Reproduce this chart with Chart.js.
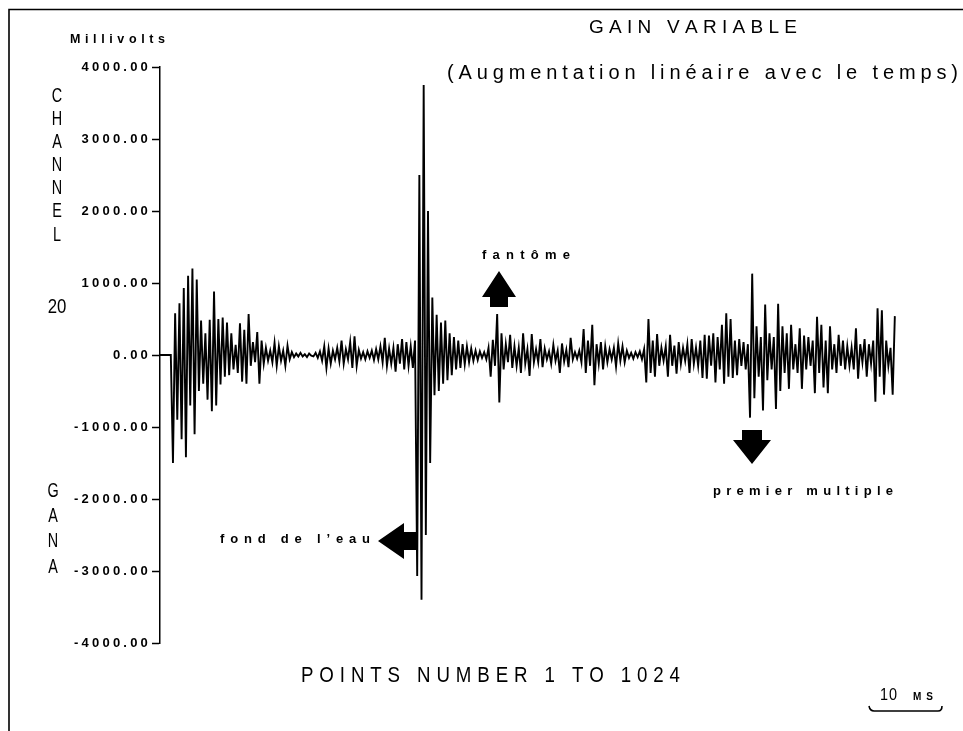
<!DOCTYPE html>
<html>
<head>
<meta charset="utf-8">
<script src="https://cdn.jsdelivr.net/npm/chart.js@4.4.1/dist/chart.umd.min.js"></script>
<style>
  html, body { margin: 0; padding: 0; background: #fff; }
  #wrap { position: relative; width: 963px; height: 731px; }
  canvas { display: block; }
</style>
</head>
<body>
<div id="wrap"><canvas id="c" width="963" height="731"></canvas></div>
<script>
// ---- data (millivolts), one value every 3 samples ----
const amplitudeMv = [
  0,0,0,0,0,0,
  -1500,580,-900,720,-1170,930,-1420,1100,-700,1200,-1100,1050,-500,480,-400,300,
  -620,490,-780,880,-700,500,-410,520,-300,450,-280,300,-200,140,-250,440,-370,350,-400,570,
  -150,180,-100,320,-400,200,-120,100,-80,60,-100,170,-150,120,-80,60,-150,130,-60,40,
  -30,20,-20,30,-20,10,-30,20,-10,
  -20,30,-40,50,-80,120,-180,90,-120,60,-60,100,-90,200,-120,80,-60,180,-180,260,-150,
  70,-50,40,-60,50,-40,60,-70,80,-60,120,-100,240,-150,90,-120,100,-230,150,-120,220,-200,180,-150,120,-180,200,
  -3070,2500,-3400,3750,-2500,2000,-1500,800,-560,560,-500,450,-400,480,-350,300,-280,250,-200,200,-180,150,-130,120,-100,90,-80,60,-70,50,-40,40,-60,100,
  -300,210,-150,570,-660,300,-200,150,-100,280,-180,120,-150,100,-250,300,-120,80,-290,290,-100,80,-100,220,-170,90,-60,50,-120,140,-80,60,-250,160,-90,70,-170,240,
  -60,40,-50,60,-100,360,-250,200,-150,420,-420,150,-120,180,-200,120,-100,80,-60,100,-160,160,-80,120,-100,60,-40,30,-50,40,-30,50,-60,80,
  -380,500,-250,200,-300,290,-150,100,-80,120,-300,280,-150,130,-260,180,-120,100,-80,150,-250,220,-120,100,-150,200,-320,280,-330,270,-150,300,-380,250,-200,420,-400,580,-300,500,-320,200,-280,220,-150,180,-200,150,
  -870,1130,-600,400,-300,250,-770,700,-350,300,-200,250,-750,710,-500,400,-250,300,-470,420,-200,150,-250,370,-470,270,-200,250,-150,200,-530,530,-250,420,-450,200,-530,400,-200,150,-250,280,-150,200,-200,120,-150,100,-200,370,-330,150,-100,220,-300,150,-120,200,-650,650,-300,620,-550,200,-150,100,-550,540
];
const sampleNumbers = amplitudeMv.map((_, i) => 1 + 3 * i);   // sample index of each value (1..1024)
const yTickValues = [-4000, -3000, -2000, -1000, 0, 1000, 2000, 3000, 4000];
const xRange = [1, 1024];

const titleText = 'GAIN VARIABLE';
const subtitleText = '(Augmentation linéaire avec le temps)';
const unitText = 'Millivolts';
const xAxisText = 'POINTS NUMBER 1 TO 1024';
const channelLetters = ['C', 'H', 'A', 'N', 'N', 'E', 'L'];
const channelNumber = '20';
const gainLetters = ['G', 'A', 'N', 'A'];
const notePhantom = 'fantôme';
const noteBottom = 'fond de l’eau';
const noteMultiple = 'premier multiple';
const scaleBarValue = '10';
const scaleBarUnit = 'MS';

// ---------------------------------------------------------------
function fitText(ctx, text, left, right, cy, font, sx) {
  ctx.save();
  ctx.font = font;
  ctx.textBaseline = 'middle';
  ctx.textAlign = 'left';
  const k = sx || 1;
  const chars = Array.from(text);
  const widths = chars.map(ch => ctx.measureText(ch).width * k);
  const natural = widths.reduce((a, b) => a + b, 0);
  const gap = chars.length > 1 ? (right - left - natural) / (chars.length - 1) : 0;
  let x = left;
  chars.forEach((ch, i) => {
    ctx.save();
    ctx.translate(x, cy);
    ctx.scale(k, 1);
    ctx.fillText(ch, 0, 0);
    ctx.restore();
    x += widths[i] + gap;
  });
  ctx.restore();
}
function narrowChar(ctx, ch, cx, cy, font, sx) {
  ctx.save();
  ctx.font = font;
  ctx.textBaseline = 'middle';
  ctx.textAlign = 'center';
  ctx.translate(cx, cy);
  ctx.scale(sx, 1);
  ctx.fillText(ch, 0, 0);
  ctx.restore();
}
function poly(ctx, pts) {
  ctx.beginPath();
  ctx.moveTo(pts[0][0], pts[0][1]);
  for (let i = 1; i < pts.length; i++) ctx.lineTo(pts[i][0], pts[i][1]);
  ctx.closePath();
  ctx.fill();
}

const tickSpacing = {
  id: 'tickSpacing',
  beforeDraw(chart) { chart.ctx.letterSpacing = '3.2px'; },
  beforeDatasetsDraw(chart) { chart.ctx.letterSpacing = '0px'; }
};

const decorations = {
  id: 'decorations',
  afterDraw(chart) {
    const ctx = chart.ctx;
    ctx.save();
    ctx.letterSpacing = '0px';
    ctx.fillStyle = '#000';
    ctx.strokeStyle = '#000';

    // frame
    ctx.lineWidth = 1.6;
    ctx.beginPath();
    ctx.moveTo(9, 731); ctx.lineTo(9, 9.5); ctx.lineTo(963, 9.5);
    ctx.stroke();

    // titles
    fitText(ctx, titleText, 589, 797, 28, '19px "Liberation Sans"');
    fitText(ctx, subtitleText, 447, 958, 73, '20px "Liberation Sans"');
    fitText(ctx, unitText, 70, 165, 40, 'bold 12.5px "Liberation Sans"');

    // vertical channel label
    const chY = [96, 119, 142, 165, 188, 211, 235];
    channelLetters.forEach((ch, i) => narrowChar(ctx, ch, 57, chY[i], '20px "Liberation Sans"', 0.72));
    narrowChar(ctx, channelNumber, 57, 307, '21px "Liberation Sans"', 0.8);
    const gY = [491, 516, 541, 567];
    gainLetters.forEach((ch, i) => narrowChar(ctx, ch, 53, gY[i], '20px "Liberation Sans"', 0.72));

    // annotations
    fitText(ctx, notePhantom, 482, 570, 255, 'bold 13px "Liberation Sans"');
    poly(ctx, [[499, 271], [516, 297], [508, 297], [508, 307], [490, 307], [490, 297], [482, 297]]);

    fitText(ctx, noteBottom, 220, 370, 539, 'bold 13px "Liberation Sans"');
    poly(ctx, [[378, 541], [404, 523], [404, 532], [416, 532], [416, 550], [404, 550], [404, 559]]);

    poly(ctx, [[752, 464], [771, 440], [762, 440], [762, 430], [742, 430], [742, 440], [733, 440]]);
    fitText(ctx, noteMultiple, 713, 893, 491, 'bold 13px "Liberation Sans"');

    // x caption
    fitText(ctx, xAxisText, 301, 680, 676, '22px "Liberation Sans"', 0.85);

    // scale bar
    fitText(ctx, scaleBarValue, 880, 897, 695, '17px "Liberation Sans"', 0.85);
    fitText(ctx, scaleBarUnit, 913, 933, 697, 'bold 10px "Liberation Sans"');
    ctx.lineWidth = 1.6;
    ctx.beginPath();
    ctx.moveTo(869, 706);
    ctx.quadraticCurveTo(870, 711, 874, 711);
    ctx.lineTo(938, 711);
    ctx.quadraticCurveTo(942, 711, 942, 706);
    ctx.stroke();

    ctx.restore();
  }
};

new Chart(document.getElementById('c'), {
  type: 'line',
  data: {
    datasets: [{
      data: amplitudeMv.map((v, i) => ({ x: sampleNumbers[i], y: v })),
      borderColor: '#000',
      borderWidth: 1.9,
      pointRadius: 0,
      tension: 0,
      fill: false
    }]
  },
  options: {
    responsive: false,
    animation: false,
    devicePixelRatio: 1,
    layout: { padding: { left: 0, right: 66, top: 67, bottom: 88 } },
    plugins: { legend: { display: false }, tooltip: { enabled: false }, title: { display: false } },
    scales: {
      x: { type: 'linear', min: xRange[0], max: xRange[1], display: false },
      y: {
        min: yTickValues[0], max: yTickValues[yTickValues.length - 1],
        afterFit(scale) { scale.width = 160; },
        afterBuildTicks(scale) { scale.ticks = yTickValues.map(v => ({ value: v })); },
        ticks: {
          color: '#000',
          padding: 1,
          font: { family: '"Liberation Sans"', weight: 'bold', size: 13 },
          callback: v => Number(v).toFixed(2)
        },
        grid: { drawOnChartArea: false, drawTicks: true, tickLength: 8, color: '#000', tickWidth: 1.5 },
        border: { display: true, color: '#000', width: 1.5 }
      }
    }
  },
  plugins: [tickSpacing, decorations]
});
</script>
</body>
</html>
